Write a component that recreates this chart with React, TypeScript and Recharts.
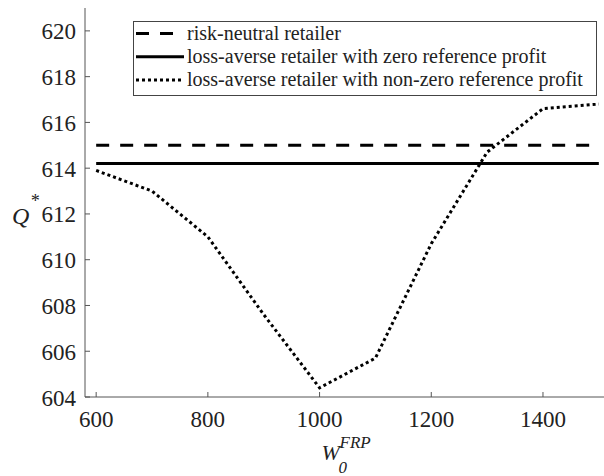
import { Legend, Line, LineChart, XAxis, YAxis } from "recharts"

const wValues = [600, 700, 800, 900, 1000, 1100, 1200, 1300, 1400, 1500]
const riskNeutral = [615, 615, 615, 615, 615, 615, 615, 615, 615, 615]
const zeroRef = [614.2, 614.2, 614.2, 614.2, 614.2, 614.2, 614.2, 614.2, 614.2, 614.2]
const nonZeroRef = [613.9, 613.0, 611.0, 607.6, 604.4, 605.7, 610.7, 614.7, 616.6, 616.8]

const xTicks = [600, 800, 1000, 1200, 1400]
const yTicks = [604, 606, 608, 610, 612, 614, 616, 618, 620]

const seriesNames = [
    "risk-neutral retailer",
    "loss-averse retailer with zero reference profit",
    "loss-averse retailer with non-zero reference profit",
]

const font = "Liberation Serif, DejaVu Serif, serif"
const axisColor = "#555"
const textColor = "#222"

const series = [
    { key: "riskNeutral", name: seriesNames[0], dash: "13 11" },
    { key: "zeroRef", name: seriesNames[1], dash: undefined },
    { key: "nonZeroRef", name: seriesNames[2], dash: "3 3" },
]

const data = wValues.map((w, i) => ({
    w,
    riskNeutral: riskNeutral[i],
    zeroRef: zeroRef[i],
    nonZeroRef: nonZeroRef[i],
}))

// ticks point inward, like the matlab box
const BottomTick = (props: any) => {
    const { x, y, payload } = props
    return (
        <g>
            <line x1={x} y1={y} x2={x} y2={y - 5} stroke={axisColor} />
            <text x={x} y={y + 30} textAnchor="middle" fontSize={23} style={{ fontFamily: font }} fill={textColor}>
                {payload.value}
            </text>
        </g>
    )
}

const TopTick = (props: any) => {
    const { x, y } = props
    return <line x1={x} y1={y} x2={x} y2={y + 5} stroke={axisColor} />
}

const LeftTick = (props: any) => {
    const { x, y, payload } = props
    return (
        <g>
            <line x1={x} y1={y} x2={x + 5} y2={y} stroke={axisColor} />
            <text x={x - 9} y={y + 8.5} textAnchor="end" fontSize={23} style={{ fontFamily: font }} fill={textColor}>
                {payload.value}
            </text>
        </g>
    )
}

const XLabel = (props: any) => {
    const { x, y, width } = props.viewBox
    const cx = x + width / 2
    return (
        <g style={{ fontFamily: font, fontStyle: "italic" }} fill={textColor}>
            <text x={cx - 26} y={y + 63} fontSize={22}>W</text>
            <text x={cx - 8} y={y + 51} fontSize={17}>FRP</text>
            <text x={cx - 9} y={y + 76} fontSize={17}>0</text>
        </g>
    )
}

const YLabel = (props: any) => {
    const { x, y } = props.viewBox
    return (
        <g style={{ fontFamily: font, fontStyle: "italic" }} fill={textColor}>
            <text x={x + 12} y={y + 216} fontSize={24}>Q</text>
            <text x={x + 30} y={y + 199} fontSize={18}>*</text>
        </g>
    )
}

const LegendBox = () => {
    return (
        <svg width={464} height={75} style={{ display: "block" }}>
            <rect x={0.5} y={0.5} width={463} height={74} fill="#fff" stroke="#444" />
            {series.map((s, i) => {
                const cy = 12.5 + i * 23.2
                return (
                    <g key={s.key}>
                        <line x1={3} y1={cy} x2={51} y2={cy} stroke="#000" strokeWidth={3} strokeDasharray={s.dash} />
                        <text x={54} y={cy + 6.5} fontSize={20} style={{ fontFamily: font }} fill={textColor}>
                            {s.name}
                        </text>
                    </g>
                )
            })}
        </svg>
    )
}

const App = () => {
    return (
        <div style={{ position: "absolute", left: 0, top: 0, width: 604, height: 476, overflow: "hidden", background: "#fff" }}>
            <LineChart width={620} height={476} data={data} margin={{ top: 8, right: 10, left: 0, bottom: 0 }}>
                <XAxis
                    dataKey="w"
                    type="number"
                    domain={[580, 1520]}
                    ticks={xTicks}
                    interval={0}
                    height={79}
                    tickSize={0}
                    tickMargin={0}
                    tickLine={false}
                    axisLine={{ stroke: axisColor }}
                    tick={<BottomTick />}
                    label={{ content: <XLabel /> }}
                    allowDataOverflow
                />
                <XAxis
                    xAxisId="top"
                    orientation="top"
                    dataKey="w"
                    type="number"
                    domain={[580, 1520]}
                    ticks={xTicks}
                    interval={0}
                    height={0}
                    tickSize={0}
                    tickMargin={0}
                    tickLine={false}
                    axisLine={{ stroke: axisColor }}
                    tick={<TopTick />}
                    allowDataOverflow
                />
                <YAxis
                    type="number"
                    domain={[604, 621]}
                    ticks={yTicks}
                    interval={0}
                    width={85}
                    tickSize={0}
                    tickMargin={0}
                    tickLine={false}
                    axisLine={{ stroke: axisColor }}
                    tick={<LeftTick />}
                    label={{ content: <YLabel /> }}
                    allowDataOverflow
                />
                <Legend
                    layout="vertical"
                    align="center"
                    verticalAlign="middle"
                    wrapperStyle={{ left: 133, top: 21 }}
                    content={<LegendBox />}
                />
                {series.map((s) => (
                    <Line
                        key={s.key}
                        type="linear"
                        dataKey={s.key}
                        name={s.name}
                        stroke="#000"
                        strokeWidth={3}
                        strokeDasharray={s.dash}
                        dot={false}
                        activeDot={false}
                        isAnimationActive={false}
                    />
                ))}
            </LineChart>
        </div>
    )
}

export default App
